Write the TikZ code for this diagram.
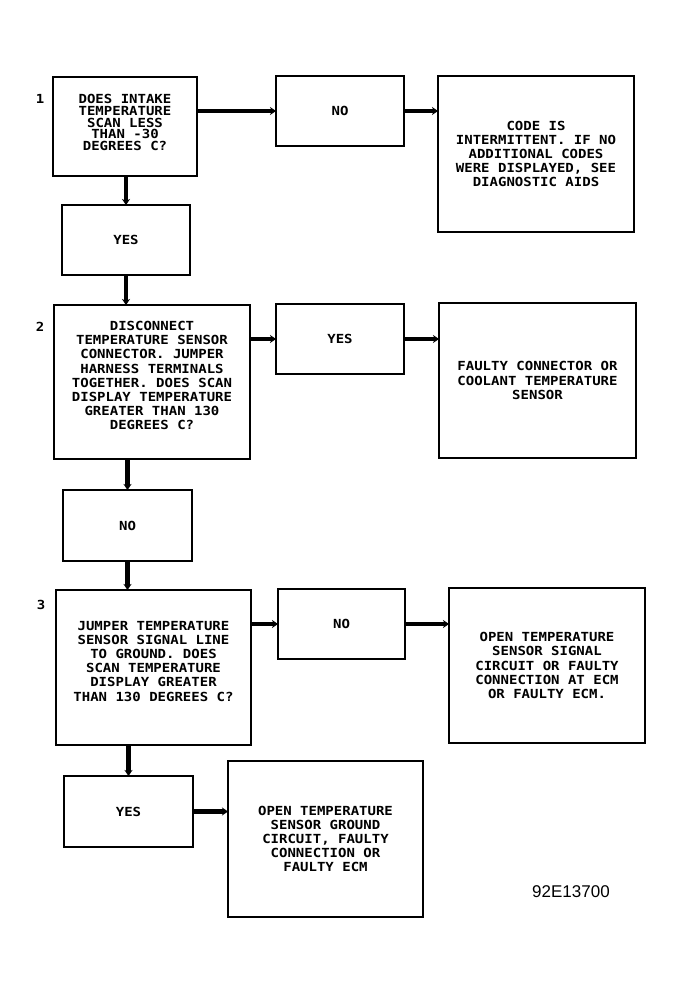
\documentclass[tikz,border=0pt]{standalone}
\usepackage{fontspec}
\usetikzlibrary{arrows.meta}
\newfontfamily\chartfont{DejaVu Sans Mono}[FakeStretch=1.12]
\newfontfamily\codefont{Liberation Sans}

\begin{document}
\begin{tikzpicture}
[x=1pt,y=-1pt,>={Stealth[length=6pt,width=8pt]},
box/.style={draw,line width=1.8pt,inner sep=0pt,outer sep=0pt,align=center,font=\chartfont\bfseries\fontsize{12.5}{14.2}\selectfont},
flow/.style={->,line width=4.5pt},
stepno/.style={font=\chartfont\bfseries\fontsize{12.5}{14}\selectfont,inner sep=0pt},]

\useasboundingbox (0,0) rectangle (683,993);

%Question boxes
\node (Q1) at (125,126.5)[box,minimum width=144,minimum height=99,text depth=8pt,font=\chartfont\bfseries\fontsize{12.5}{11.7}\selectfont] {DOES INTAKE\\TEMPERATURE\\SCAN LESS\\THAN -30\\DEGREES C?};
\node (Q2) at (152,382)[box,minimum width=196,minimum height=154,text depth=13pt] {DISCONNECT\\TEMPERATURE SENSOR\\CONNECTOR. JUMPER\\HARNESS TERMINALS\\TOGETHER. DOES SCAN\\DISPLAY TEMPERATURE\\GREATER THAN 130\\DEGREES C?};
\node (Q3) at (153.5,667.5)[box,minimum width=195,minimum height=155,text depth=13pt] {JUMPER TEMPERATURE\\SENSOR SIGNAL LINE\\TO GROUND. DOES\\SCAN TEMPERATURE\\DISPLAY GREATER\\THAN 130 DEGREES C?};

%Step numbers
\node (S1) at (40,99)[stepno] {1};
\node (S2) at (40,327)[stepno] {2};
\node (S3) at (41,605)[stepno] {3};

%Yes and no boxes
\node (N1) at (340,111)[box,minimum width=128,minimum height=70] {NO};
\node (Y1) at (126,240)[box,minimum width=128,minimum height=70] {YES};
\node (Y2) at (340,339)[box,minimum width=128,minimum height=70] {YES};
\node (N2) at (127.5,525.5)[box,minimum width=129,minimum height=71] {NO};
\node (N3) at (341.5,624)[box,minimum width=127,minimum height=70] {NO};
\node (Y3) at (128.5,811.5)[box,minimum width=129,minimum height=71] {YES};

%Result boxes
\node (R1) at (536,154)[box,minimum width=196,minimum height=156] {CODE IS\\INTERMITTENT. IF NO\\ADDITIONAL CODES\\WERE DISPLAYED, SEE\\DIAGNOSTIC AIDS};
\node (R2) at (537.5,380.5)[box,minimum width=197,minimum height=155] {FAULTY CONNECTOR OR\\COOLANT TEMPERATURE\\SENSOR};
\node (R3) at (547,665.5)[box,minimum width=196,minimum height=155] {OPEN TEMPERATURE\\SENSOR SIGNAL\\CIRCUIT OR FAULTY\\CONNECTION AT ECM\\OR FAULTY ECM.};
\node (R4) at (325.5,839)[box,minimum width=195,minimum height=156] {OPEN TEMPERATURE\\SENSOR GROUND\\CIRCUIT, FAULTY\\CONNECTION OR\\FAULTY ECM};

%Figure code
\node (F) at (571,892)[font=\codefont\fontsize{17}{17}\selectfont,inner sep=0pt] {92E13700};

%Drawing arrows down the chart
\draw[flow] (Q1.south -| Y1) -- (Y1.north);
\draw[flow] (Y1.south) -- (Y1.south |- Q2.north);
\draw[flow] (Q2.south -| N2) -- (N2.north);
\draw[flow] (N2.south) -- (N2.south |- Q3.north);
\draw[flow] (Q3.south -| Y3) -- (Y3.north);

%Drawing arrows across the chart
\draw[flow] (Q1.east |- N1.west) -- (N1.west);
\draw[flow] (N1.east) -- (N1.east -| R1.west);
\draw[flow] (Q2.east |- Y2.west) -- (Y2.west);
\draw[flow] (Y2.east) -- (Y2.east -| R2.west);
\draw[flow] (Q3.east |- N3.west) -- (N3.west);
\draw[flow] (N3.east) -- (N3.east -| R3.west);
\draw[flow] (Y3.east) -- (Y3.east -| R4.west);

\end{tikzpicture}
\end{document}
